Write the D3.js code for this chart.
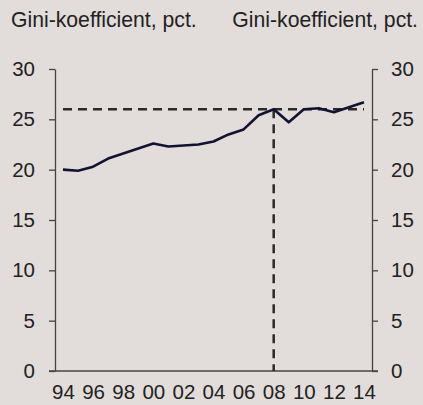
<!DOCTYPE html>
<html>
<head>
<meta charset="utf-8">
<script src="https://cdn.jsdelivr.net/npm/d3@7"></script>
<style>
  html, body { margin: 0; padding: 0; background: #e2dcda; }
  svg { display: block; }
  text { font-family: "Liberation Sans", Arial, sans-serif; fill: #222; }
</style>
</head>
<body>
<svg id="chart" width="423" height="405"></svg>
<script>
const years = [1994, 1995, 1996, 1997, 1998, 1999, 2000, 2001, 2002, 2003, 2004,
  2005, 2006, 2007, 2008, 2009, 2010, 2011, 2012, 2013, 2014]
const gini = [20.0, 19.9, 20.3, 21.1, 21.6, 22.1, 22.6, 22.3, 22.4, 22.5, 22.8,
  23.5, 24.0, 25.4, 26.0, 24.7, 26.0, 26.1, 25.7, 26.2, 26.7]
const yTicks = [0, 5, 10, 15, 20, 25, 30]
const xTicks = [1994, 1996, 1998, 2000, 2002, 2004, 2006, 2008, 2010, 2012, 2014]
const refYear = 2008
const refValue = 26
const axisTitle = 'Gini-koefficient, pct.'

const svg = d3.select('#chart')
const plotLeft = 55
const plotRight = 372
const plotTop = 69
const plotBottom = 371

const x = d3.scaleLinear().domain([1994, 2014]).range([63, 364])
const y = d3.scaleLinear().domain([0, 30]).range([plotBottom, plotTop])

// titles over both axes
svg.append('text').attr('x', 11).attr('y', 27).style('font-size', '21.2px').text(axisTitle)
svg.append('text').attr('x', 418).attr('y', 27).attr('text-anchor', 'end')
	.style('font-size', '21.2px').text(axisTitle)

svg.append('g')
	.attr('transform', `translate(${plotLeft},0)`)
	.call(d3.axisLeft(y).tickValues(yTicks).tickSize(6).tickSizeOuter(0).tickPadding(14))
svg.append('g')
	.attr('transform', `translate(${plotRight},0)`)
	.call(d3.axisRight(y).tickValues(yTicks).tickSize(6).tickSizeOuter(0).tickPadding(13))

const xAxis = svg.append('g')
	.attr('transform', `translate(0,${plotBottom})`)
	.call(d3.axisBottom(x).tickValues(xTicks).tickSize(0).tickPadding(13)
		.tickFormat((d) => String(d).slice(2)))
xAxis.select('.domain').remove()

// bottom line reaches a bit past both y axes
svg.append('line')
	.attr('x1', 49).attr('x2', 378).attr('y1', plotBottom).attr('y2', plotBottom)
	.style('stroke', '#444').style('stroke-width', 1.3)

svg.selectAll('.domain, .tick line').style('stroke', '#444').style('stroke-width', 1.3)
svg.selectAll('.tick text').style('font-size', '20.5px').style('fill', '#222')
	.style('font-family', '"Liberation Sans", Arial, sans-serif')

// reference lines
svg.append('line')
	.attr('x1', x(1994)).attr('x2', x(2014)).attr('y1', y(refValue)).attr('y2', y(refValue))
	.style('stroke', '#2a2a2a').style('stroke-width', 2.5).style('stroke-dasharray', '9,6')
svg.append('line')
	.attr('x1', x(refYear)).attr('x2', x(refYear)).attr('y1', y(refValue)).attr('y2', plotBottom)
	.style('stroke', '#2a2a2a').style('stroke-width', 2.5).style('stroke-dasharray', '9,6')

const line = d3.line().x((d, i) => x(years[i])).y((d) => y(d))
svg.append('path')
	.datum(gini)
	.attr('d', line)
	.style('fill', 'none')
	.style('stroke', '#121233')
	.style('stroke-width', 2.6)
	.style('stroke-linejoin', 'round')
</script>
</body>
</html>
